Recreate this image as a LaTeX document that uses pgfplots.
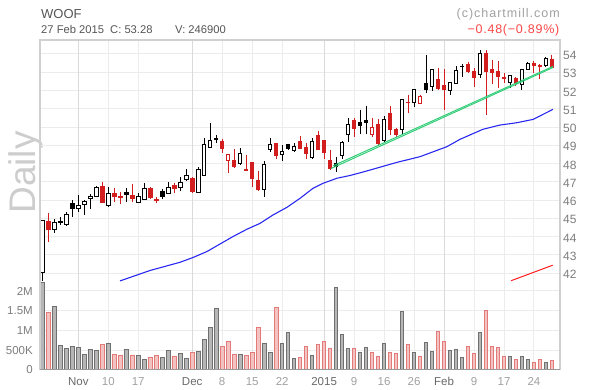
\documentclass[border=0pt]{standalone}
\usepackage{fontspec}
\setmainfont{Liberation Sans}
\usepackage{pgfplots}
\usepackage{pgfplotstable}
\pgfplotsset{compat=1.18}
\usepgfplotslibrary{statistics}
\definecolor{candlered}{RGB}{210,30,30}
\definecolor{gridc}{RGB}{236,236,236}
\definecolor{monthgrid}{RGB}{218,218,218}
\definecolor{framec}{RGB}{208,208,208}
\definecolor{tickc}{RGB}{125,125,125}
\definecolor{monthc}{RGB}{105,105,105}
\definecolor{dayc}{RGB}{160,160,160}
\definecolor{volgray}{RGB}{182,182,182}
\definecolor{volgrayedge}{RGB}{112,112,112}
\definecolor{volpink}{RGB}{245,194,194}
\definecolor{volpinkedge}{RGB}{226,122,122}
\definecolor{maBlue}{RGB}{40,40,240}
\definecolor{trendgreen}{RGB}{50,205,120}
\definecolor{trendred}{RGB}{255,30,30}
\definecolor{hdr}{RGB}{85,85,85}
\definecolor{dailyc}{RGB}{205,205,205}
\definecolor{chgred}{RGB}{250,70,70}
\definecolor{copyc}{RGB}{160,160,160}

% i = trading day index (0 = 24 Oct 2014 ... 85 = 27 Feb 2015), v = volume in millions, r = 1 if close < previous close
\pgfplotstableread{
i o h l c v r
0 42.02 44.92 41.58 44.87 2.22 0
1 44.85 45.28 43.72 44.39 1.46 1
2 44.39 44.98 44.20 44.78 1.61 0
3 44.80 45.09 44.63 44.82 0.62 0
4 44.67 45.35 44.58 45.20 0.55 0
5 45.80 46.02 45.09 45.52 0.60 0
6 45.54 46.29 45.37 45.72 0.58 0
7 45.78 46.01 45.20 45.90 0.40 0
8 46.08 46.34 45.50 46.21 0.51 0
9 46.21 46.78 46.19 46.72 0.49 0
10 46.76 47.00 45.84 45.88 0.65 1
11 45.73 46.72 45.60 46.39 0.675 0
12 46.39 46.68 45.90 46.18 0.40 1
13 46.22 46.46 45.80 46.14 0.38 1
14 46.41 46.65 45.92 46.32 0.52 0
15 46.28 46.89 45.88 46.11 0.38 1
16 45.86 46.37 45.86 46.20 0.37 0
17 46.04 46.96 46.00 46.65 0.27 0
18 46.65 46.74 46.09 46.13 0.32 1
19 46.02 46.18 45.82 46.00 0.37 1
20 46.48 46.59 46.04 46.22 0.32 0
21 46.39 47.00 46.33 46.70 0.49 0
22 46.78 46.94 46.41 46.63 0.35 1
23 46.70 47.26 46.52 46.94 0.42 0
24 47.15 47.73 47.07 47.37 0.30 0
25 47.21 47.25 46.44 46.46 0.45 1
26 46.43 47.80 46.43 47.69 0.47 0
27 47.34 49.41 47.34 49.03 0.78 0
28 48.90 50.20 48.90 49.25 1.08 0
29 49.35 49.54 49.12 49.31 1.56 0
30 49.19 49.34 48.60 48.82 0.60 1
31 48.17 48.51 47.50 48.51 0.72 1
32 48.19 48.79 47.79 47.83 0.40 1
33 48.02 48.84 47.92 48.53 0.40 0
34 47.68 48.47 47.61 47.65 0.37 1
35 48.05 48.05 46.70 47.19 0.45 1
36 47.10 47.61 46.52 46.56 1.08 1
37 46.56 48.15 46.18 47.96 0.675 0
38 48.79 49.41 48.62 49.03 0.45 0
39 49.08 49.08 48.28 48.47 1.59 1
40 48.49 49.03 48.15 48.67 0.675 0
41 49.04 49.10 48.78 48.82 0.95 0
42 48.71 49.12 48.64 48.93 0.30 0
43 49.19 49.49 48.80 48.84 0.32 1
44 48.90 49.12 48.28 48.53 0.60 1
45 48.32 49.40 48.23 49.21 0.37 0
46 49.53 49.80 48.75 48.75 0.65 1
47 49.25 49.25 48.28 48.60 0.73 1
48 48.19 48.75 47.65 47.74 0.55 1
49 47.98 48.38 47.55 47.83 2.09 0
50 48.47 49.25 48.23 49.17 0.90 0
51 49.57 50.49 49.16 50.15 0.55 0
52 50.34 50.49 49.48 49.93 0.55 1
53 50.26 50.95 49.60 50.08 0.45 0
54 50.36 51.16 49.60 50.25 0.57 0
55 49.60 50.49 49.47 49.99 0.45 1
56 50.15 50.43 48.96 49.11 0.35 1
57 49.29 50.58 49.11 50.43 0.675 0
58 50.73 51.13 49.56 49.89 0.45 1
59 49.84 49.93 49.47 49.62 0.42 1
60 49.84 51.53 49.56 51.50 1.49 0
61 51.36 51.76 50.75 51.34 0.65 1
62 51.36 52.03 51.08 52.03 0.45 0
63 51.30 51.75 51.26 51.70 0.35 1
64 52.36 53.95 51.85 52.03 0.70 0
65 52.22 53.13 51.99 53.13 0.47 0
66 52.59 53.22 52.03 52.12 0.98 1
67 52.25 53.17 50.93 52.03 0.73 1
68 51.98 52.44 51.75 52.44 0.50 0
69 52.40 53.32 52.35 53.09 0.52 0
70 53.33 53.47 52.76 53.32 0.32 0
71 53.41 53.54 52.95 53.04 0.60 1
72 53.04 53.22 52.22 52.72 0.42 1
73 52.89 54.22 52.67 54.01 0.95 0
74 54.05 54.22 50.65 53.04 1.51 1
75 53.17 53.68 52.35 53.01 0.60 1
76 53.04 53.59 52.12 52.76 0.57 1
77 52.69 52.95 52.40 52.67 0.35 1
78 52.44 52.85 52.12 52.85 0.35 0
79 52.67 52.76 52.25 52.40 0.27 1
80 52.31 53.17 52.03 53.13 0.35 0
81 53.17 53.54 53.13 53.46 0.27 0
82 53.46 53.64 52.95 53.36 0.19 1
83 53.37 53.46 52.62 53.35 0.27 1
84 53.36 53.83 53.31 53.76 0.19 0
85 53.68 53.96 53.27 53.28 0.2469 1
}\ohlc

\pgfplotsset{
  chartbase/.style={
    x=5.996bp, xmin=-0.384, xmax=86.34,
    axis line style={draw=none},
    major tick length=0pt,
    xtick={6,11,16,25,30,35,40,47,52,57,62,67,72,77,82},
    xmajorgrids, ymajorgrids,
    major grid style={draw=gridc, line width=1bp},
    extra x ticks={6,25,47,67},
    extra x tick labels={},
    extra x tick style={xmajorgrids=true, major grid style={draw=monthgrid, line width=1bp}},
  }
}

\begin{document}
\begin{tikzpicture}
% header texts
\node[anchor=base west, inner sep=0pt, text=hdr, font=\fontsize{13bp}{15bp}\selectfont] at (41bp,371.7bp) {WOOF};
\node[anchor=base west, inner sep=0pt, text=hdr, font=\fontsize{11.2bp}{13bp}\selectfont] at (41bp,356bp) {27 Feb 2015};
\node[anchor=base west, inner sep=0pt, text=hdr, font=\fontsize{11.2bp}{13bp}\selectfont] at (110bp,356bp) {C: 53.28};
\node[anchor=base west, inner sep=0pt, text=hdr, font=\fontsize{11.2bp}{13bp}\selectfont] at (175bp,356bp) {V: 246900};
\node[anchor=base east, inner sep=0pt, text=copyc, font=\fontsize{12.5bp}{14bp}\selectfont\addfontfeature{LetterSpace=8}] at (560bp,372.5bp) {(c)chartmill.com};
\node[anchor=base east, inner sep=0pt, text=chgred, font=\fontsize{12.5bp}{14bp}\selectfont\addfontfeature{LetterSpace=6}] at (559.5bp,356bp) {−0.48(−0.89\%)};
\node[rotate=90, anchor=base, inner sep=0pt, text=dailyc, font=\fontsize{37bp}{40bp}\selectfont] at (35bp,217.5bp) {Daily};

% volume panel
\begin{axis}[chartbase,
  at={(40bp,20bp)}, anchor=south west,
  y=39.5bp, ymin=0, ymax=2.532,
  ytick={0,0.5,1,1.5,2},
  yticklabels={0,500K,1M,1.5M,2M},
  yticklabel style={anchor=east, inner sep=0pt, xshift=-7bp, text=tickc, font=\fontsize{11.5bp}{13bp}\selectfont},
  xticklabels={{\color{monthc}Nov},10,17,{\color{monthc}Dec},8,15,22,{\color{monthc}2015},9,16,26,{\color{monthc}Feb},9,17,24},
  xticklabel style={anchor=north, inner sep=0pt, yshift=-7bp, text=dayc, font=\fontsize{11.5bp}{13bp}\selectfont},
]
\addplot[ybar, bar width=3.5bp, bar shift=0pt, fill=volgray, draw=volgrayedge, line width=0.8bp,
  restrict expr to domain={\thisrow{r}}{-0.5:0.5}] table[x=i, y=v] {\ohlc};
\addplot[ybar, bar width=3.5bp, bar shift=0pt, fill=volpink, draw=volpinkedge, line width=0.8bp,
  restrict expr to domain={\thisrow{r}}{0.5:1.5}] table[x=i, y=v] {\ohlc};
\end{axis}

% price panel
\begin{axis}[chartbase,
  at={(40bp,106bp)}, anchor=south west,
  y=18.27bp, ymin=41.411, ymax=54.766,
  ytick={42,43,44,45,46,47,48,49,50,51,52,53,54},
  yticklabels={42,43,44,45,46,47,48,49,50,51,52,53,54},
  yticklabel pos=right,
  yticklabel style={anchor=west, inner sep=0pt, xshift=3bp, yshift=-1.5bp, text=tickc, font=\fontsize{12bp}{14bp}\selectfont},
  xticklabels={},
]
\pgfplotsinvokeforeach{0,...,85}{%
  \pgfplotstablegetelem{#1}{o}\of\ohlc \let\vO\pgfplotsretval
  \pgfplotstablegetelem{#1}{h}\of\ohlc \let\vH\pgfplotsretval
  \pgfplotstablegetelem{#1}{l}\of\ohlc \let\vL\pgfplotsretval
  \pgfplotstablegetelem{#1}{c}\of\ohlc \let\vC\pgfplotsretval
  \pgfplotstablegetelem{#1}{r}\of\ohlc \let\vR\pgfplotsretval
  \pgfmathsetmacro\vLo{min(\vO,\vC)}%
  \pgfmathsetmacro\vHi{max(\vO,\vC)}%
  \ifdim\vR pt>0.5pt \def\cc{candlered}\else\def\cc{black}\fi
  \ifdim\vC pt<\vO pt \let\ff\cc\else\def\ff{white}\fi
  \edef\temp{\noexpand\addplot[draw=\cc, fill=\ff, line width=1bp, solid,
     boxplot/draw direction=y,
     boxplot prepared={draw position=#1, lower whisker=\vL, lower quartile=\vLo,
       median=\vLo, upper quartile=\vHi, upper whisker=\vH,
       box extend=0.6, whisker extend=0}] coordinates {};}%
  \temp
}
% 50-day moving average
\addplot[draw=maBlue, line width=1.1bp, mark=none] coordinates {
(12.96,41.58) (17.96,42.15) (22.97,42.60) (25.13,42.86) (27.47,43.19) (29.64,43.60)
(31.81,44.01) (34.14,44.41) (36.31,44.73) (38.48,45.19) (40.81,45.61) (42.98,46.10)
(45.15,46.65) (46.81,46.92) (49.15,47.20) (51.32,47.35) (53.49,47.54) (59.16,48.07)
(62.99,48.38) (67.50,48.93) (69.66,49.33) (73.50,49.88) (76.33,50.11) (79.17,50.24)
(81.84,50.42) (85.17,50.97)};
% trend lines
\addplot[draw=trendgreen, line width=1bp, mark=none] coordinates {(48.15,47.73) (85.17,53.26)};
\addplot[draw=trendgreen, line width=1bp, mark=none] coordinates {(48.49,47.88) (85.17,53.32)};
\addplot[draw=trendred, line width=1bp, mark=none] coordinates {(78.17,41.59) (85.13,42.44)};
\end{axis}

% frame
\draw[framec, line width=1.2bp] (40bp,20bp) -- (40bp,350bp) -- (560bp,350bp) -- (560bp,20bp);
\draw[black!40, line width=1bp] (40bp,20bp) -- (560bp,20bp);

\pgfresetboundingbox
\path[use as bounding box] (0bp,0bp) rectangle (600bp,390bp);
\end{tikzpicture}
\end{document}
